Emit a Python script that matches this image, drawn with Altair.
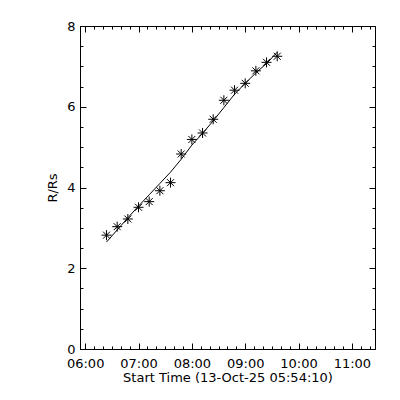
import altair as alt
import pandas as pd

# ---- data ----
times = ["06:24", "06:36", "06:48", "07:00", "07:12", "07:24", "07:36", "07:48",
         "08:00", "08:12", "08:24", "08:36", "08:48", "09:00", "09:12", "09:24", "09:36"]
r_obs = [2.82, 3.03, 3.22, 3.51, 3.65, 3.92, 4.12, 4.83,
         5.19, 5.35, 5.69, 6.16, 6.41, 6.58, 6.89, 7.10, 7.25]
r_fit = [2.65, 2.95, 3.25, 3.54, 3.82, 4.10, 4.38, 4.70,
         5.05, 5.34, 5.65, 5.98, 6.31, 6.58, 6.84, 7.07, 7.35]
x_tick_labels = ["06:00", "07:00", "08:00", "09:00", "10:00", "11:00"]
y_major = [0, 2, 4, 6, 8]
x_start = "05:54:10"
x_end = "11:26:00"
x_title = "Start Time (13-Oct-25 05:54:10)"
y_title = "R/Rs"


def to_min(s):
    p = [int(v) for v in s.split(":")]
    return p[0] * 60 + p[1] + (p[2] / 60 if len(p) > 2 else 0)


df = pd.DataFrame({"t": [to_min(s) for s in times], "r": r_obs, "fit": r_fit})

x_major = [to_min(s) for s in x_tick_labels]
x_minor = [to_min(x_tick_labels[0]) + 10 * i for i in range(33)]
y_minor = [0.5 * i for i in range(17)]

xscale = alt.Scale(domain=[to_min(x_start), to_min(x_end)], nice=False, zero=False)
yscale = alt.Scale(domain=[0, 8], nice=False, zero=False)

FONT = "DejaVu Sans"
FS = 13
MAJ = 6
MIN = 3

label_expr = "(floor(datum.value/60) < 10 ? '0' : '') + floor(datum.value/60) + ':00'"


def axis(orient, values, size, labels=False, title=None, **kw):
    return alt.Axis(orient=orient, values=values, tickSize=size, offset=-size,
                    domain=False, grid=False, ticks=True, tickColor="black",
                    tickWidth=1, labels=labels, title=title,
                    labelFont=FONT, labelFontSize=FS, labelColor="black",
                    titleFont=FONT, titleFontSize=FS, titleColor="black",
                    titleFontWeight="normal", **kw)


base = alt.Chart(df)

ASTER = "M0,-1L0,1M-1,0L1,0M-0.7,-0.7L0.7,0.7M-0.7,0.7L0.7,-0.7"

line = base.mark_line(color="black", strokeWidth=1).encode(
    x=alt.X("t:Q", scale=xscale,
            axis=axis("bottom", x_major, MAJ, labels=True, title=x_title,
                      labelExpr=label_expr, labelPadding=8, titlePadding=1)),
    y=alt.Y("fit:Q", scale=yscale,
            axis=axis("left", y_major, MAJ, labels=True, title=y_title,
                      labelPadding=5, titlePadding=7)),
)

pts = base.mark_point(shape=ASTER, size=100, color="black", strokeWidth=1,
                      filled=False, opacity=1).encode(
    x=alt.X("t:Q", scale=xscale, axis=axis("bottom", x_minor, MIN)),
    y=alt.Y("r:Q", scale=yscale, axis=axis("left", y_minor, MIN)),
)

top_right_major = base.mark_point(opacity=0).encode(
    x=alt.X("t:Q", scale=xscale, axis=axis("top", x_major, MAJ)),
    y=alt.Y("r:Q", scale=yscale, axis=axis("right", y_major, MAJ)),
)

top_right_minor = base.mark_point(opacity=0).encode(
    x=alt.X("t:Q", scale=xscale, axis=axis("top", x_minor, MIN)),
    y=alt.Y("r:Q", scale=yscale, axis=axis("right", y_minor, MIN)),
)

chart = alt.layer(line, pts, top_right_major, top_right_minor).resolve_axis(
    x="independent", y="independent"
).properties(
    width=295, height=323,
    autosize=alt.AutoSizeParams(type="none"),
    padding={"left": 72, "top": 18, "right": 12, "bottom": 38},
    background="white",
).configure_view(stroke="black", strokeWidth=1)

chart.save("out.html", embed_options={"renderer": "svg", "actions": False})
